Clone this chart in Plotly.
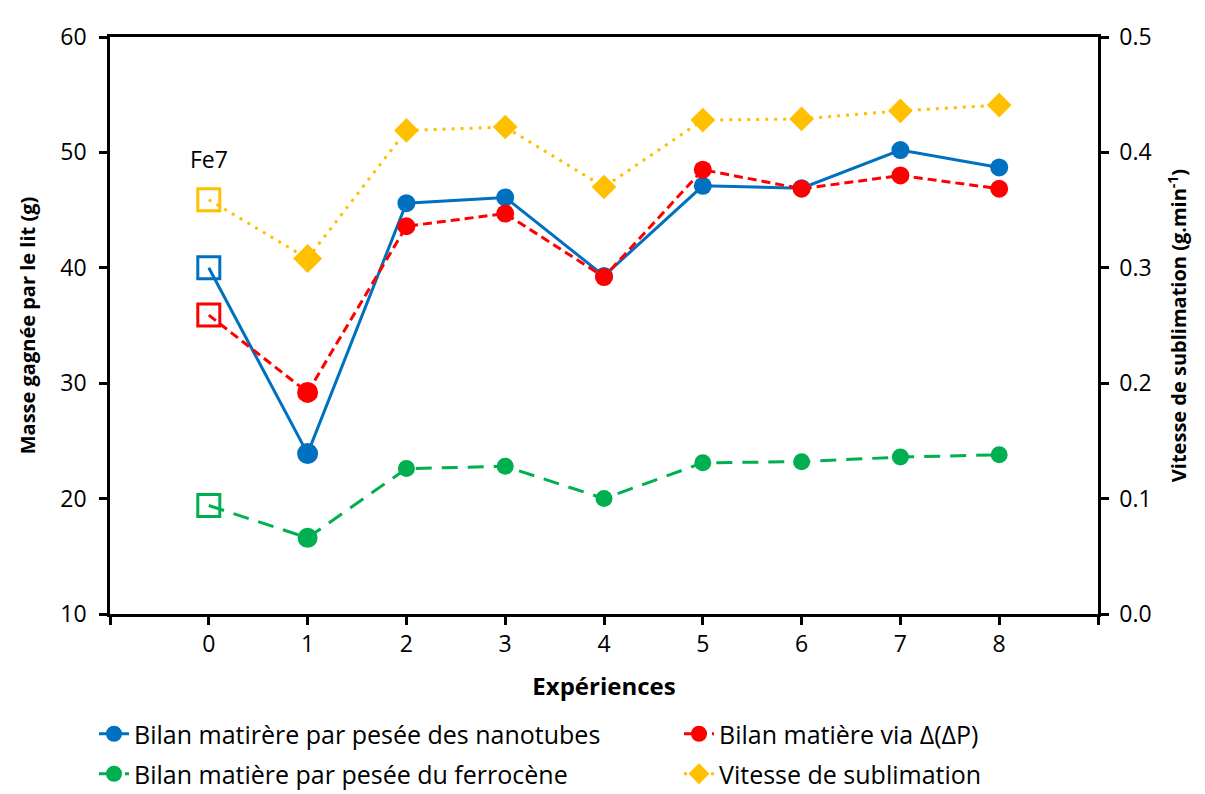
import plotly.graph_objects as go

# ---- data ----
experiences = [0, 1, 2, 3, 4, 5, 6, 7, 8]
nanotubes = [40.0, 23.9, 45.6, 46.1, 39.3, 47.1, 46.9, 50.2, 48.7]
delta_p = [35.9, 29.2, 43.6, 44.7, 39.2, 48.5, 46.85, 48.0, 46.85]
ferrocene = [19.4, 16.6, 22.6, 22.8, 20.0, 23.1, 23.2, 23.6, 23.8]
vitesse = [0.359, 0.308, 0.419, 0.422, 0.370, 0.428, 0.429, 0.436, 0.441]

x_tickvals = [-1, 0, 1, 2, 3, 4, 5, 6, 7, 8, 9]
x_ticktext = ["", "0", "1", "2", "3", "4", "5", "6", "7", "8", ""]
series_names = [
    "Bilan matirère par pesée des nanotubes",
    "Bilan matière via Δ(ΔP)",
    "Bilan matière par pesée du ferrocène",
    "Vitesse de sublimation",
]
label_fe7 = "Fe7"

FONT = "Open Sans"
TICK_FS = 23
LEG_FS = 25
XTITLE_FS = 24
YTITLE_FS = 20

styles = [
    dict(vals=nanotubes, color="#0070C0", dash="solid", sym="circle", size=18, yaxis="y", legend="legend"),
    dict(vals=delta_p, color="#FF0000", dash="9px,5px", sym="circle", size=18, yaxis="y", legend="legend2"),
    dict(vals=ferrocene, color="#00B050", dash="16px,10px", sym="circle", size=17, yaxis="y", legend="legend3"),
    dict(vals=vitesse, color="#FFC000", dash="3px,6px", sym="diamond", size=19, yaxis="y2", legend="legend4"),
]

fig = go.Figure()
for name, st in zip(series_names, styles):
    # segment from the Fe7 reference point (open square) to experiment 1
    fig.add_trace(go.Scatter(
        x=experiences[:2], y=st["vals"][:2], mode="lines+markers", yaxis=st["yaxis"],
        line=dict(color=st["color"], width=3, dash=st["dash"]),
        marker=dict(symbol=["square-open", st["sym"]], size=[22, st["size"]], opacity=1,
                    color=st["color"], line=dict(width=3, color=st["color"])),
        showlegend=False, hoverinfo="skip",
    ))
    fig.add_trace(go.Scatter(
        x=experiences[1:], y=st["vals"][1:], mode="lines+markers", name=name,
        yaxis=st["yaxis"], legend=st["legend"],
        line=dict(color=st["color"], width=3, dash=st["dash"]),
        marker=dict(symbol=st["sym"], size=st["size"], color=st["color"]),
    ))

fig.add_annotation(x=experiences[0], y=49.4, xref="x", yref="y", text=label_fe7,
                   showarrow=False, font=dict(family=FONT, size=TICK_FS, color="black"))

axis_common = dict(showgrid=False, zeroline=False, showline=True, linecolor="black",
                   linewidth=2.5, ticks="outside", ticklen=8, tickwidth=2.5, tickcolor="black",
                   tickfont=dict(family=FONT, size=TICK_FS, color="black"))


def leg(xpix, ypix):
    return dict(orientation="h", xref="container", yref="container",
                x=xpix / 1205, y=1 - ypix / 794, xanchor="left", yanchor="middle",
                font=dict(family=FONT, size=LEG_FS, color="black"), bgcolor="rgba(0,0,0,0)")


fig.update_layout(
    width=1205, height=794,
    margin=dict(l=102, r=115, t=19, b=188),
    paper_bgcolor="white", plot_bgcolor="white",
    font=dict(family=FONT, size=TICK_FS, color="black"),
    xaxis=dict(range=[-1, 9], tickvals=x_tickvals, ticktext=x_ticktext, mirror=True,
               title=dict(text="<b>Expériences</b>", font=dict(family=FONT, size=XTITLE_FS), standoff=20),
               **axis_common),
    yaxis=dict(range=[10, 60], dtick=10, tick0=10, ticklabelstandoff=8,
               title=dict(text="<b>Masse gagnée par le lit (g)</b>", font=dict(family=FONT, size=YTITLE_FS), standoff=20),
               **axis_common),
    yaxis2=dict(range=[0, 0.5], dtick=0.1, tick0=0, tickformat=".1f", overlaying="y", side="right",
                ticklabelstandoff=6,
                title=dict(text="<b>Vitesse de sublimation (g.min<sup>-1</sup>)</b>", font=dict(family=FONT, size=YTITLE_FS), standoff=22),
                **axis_common),
    legend=leg(86, 726),
    legend2=leg(671, 726),
    legend3=leg(86, 766),
    legend4=leg(671, 766),
)

fig.write_html("out.html")
